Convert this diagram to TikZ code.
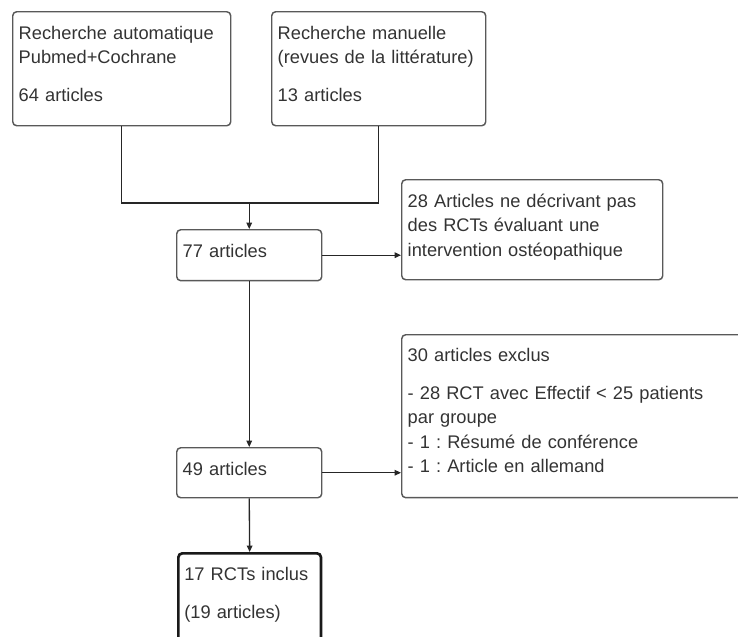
\documentclass[tikz,border=0pt]{standalone}
\usepackage{fontspec}
\setmainfont{Liberation Sans}
\usetikzlibrary{arrows.meta}
\frenchspacing

\begin{document}
\begin{tikzpicture}[
    x=0.75pt, y=-0.75pt,
    box/.style={
        draw=black!65,
        line width=1.1pt,
        rounded corners=3pt,
        anchor=north west,
        inner xsep=4.5pt, inner ysep=0pt,
        align=left,
        text=black!80,
        text height=20.6pt,
        font=\fontsize{13.7}{18.4}\selectfont
    },
    finalbox/.style={
        box,
        draw=black!90,
        line width=2pt
    },
    link/.style={
        draw=black!85,
        line width=1pt
    },
    arrow/.style={
        link,
        -{Triangle[length=4.8pt, width=4.2pt]}
    }
]

% Page size and clipping
\useasboundingbox (0,0) rectangle (738,636);
\clip (0,0) rectangle (738,636);

% Sources
\node[box, text width=154.5pt, text depth=64.9pt] (auto) at (12,11)
    {Recherche automatique\\Pubmed+Cochrane\\[10pt]64 articles};
\node[box, text width=151.5pt, text depth=64.9pt] (manual) at (271,11)
    {Recherche manuelle\\(revues de la littérature)\\[10pt]13 articles};

% Main column
\node[box, text width=99.75pt, text depth=17.6pt] (n77) at (176,229) {77 articles};
\node[box, text width=99.75pt, text depth=16.9pt] (n49) at (176,447) {49 articles};
\node[finalbox, text width=98pt, text depth=54.4pt] (n17) at (177,552)
    {17 RCTs inclus\\[10pt](19 articles)};

% Exclusions
\node[box, text width=186.75pt, text depth=54.4pt] (n28) at (401,179)
    {28 Articles ne décrivant pas\\des RCTs évaluant une\\intervention ostéopathique};
\node[box, text width=260pt, text depth=102.4pt, text height=19.8pt] (n30) at (401,334)
    {30 articles exclus\\[10pt]- 28 RCT avec Effectif < 25 patients\\par groupe\\- 1 : Résumé de conférence\\- 1 : Article en allemand};

% Connectors
\path (n77.north) ++(0,-26) coordinate (join);
\draw[link] (auto.south) |- (join) -| (manual.south);
\draw[arrow] (join) -- (n77.north);
\draw[arrow] (n77.east) -- (n77.east -| n28.west);
\draw[arrow] (n77.south) -- (n49.north);
\draw[arrow] (n49.east) -- (n49.east -| n30.west);
\draw[arrow] (n49.south) -- (n17.north);

\end{tikzpicture}
\end{document}
